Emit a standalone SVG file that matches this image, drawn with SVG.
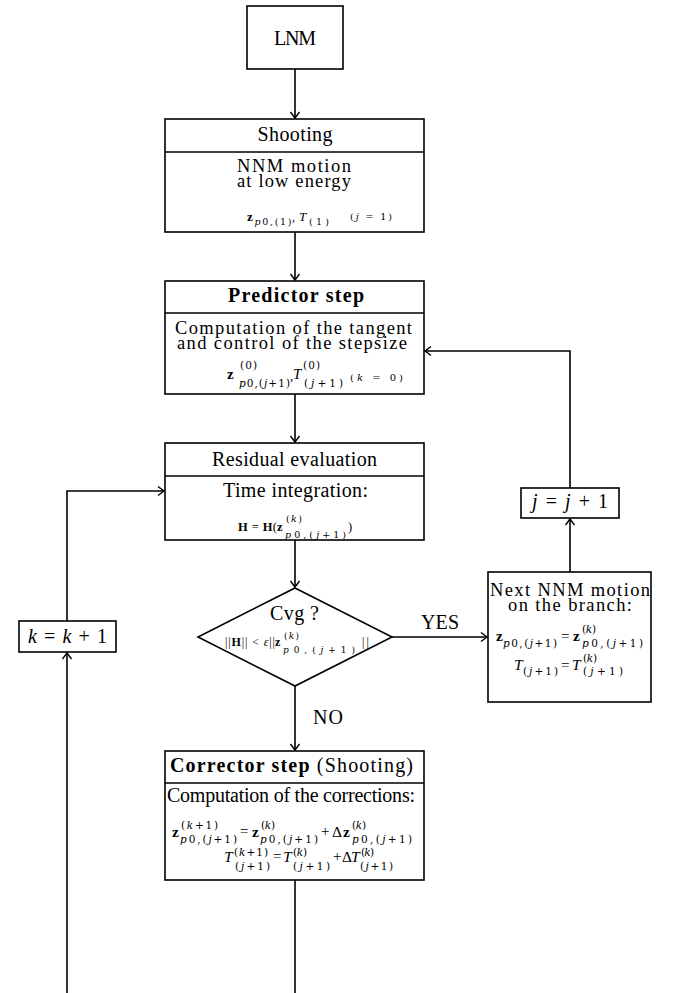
<svg xmlns="http://www.w3.org/2000/svg" width="673" height="993" viewBox="0 0 673 993">
<style>
.box{fill:#fff;stroke:#000;stroke-width:1.6}
.ln{fill:none;stroke:#000;stroke-width:1.6}
.c{fill:none;stroke:#000;stroke-width:1.6;marker-end:url(#ar)}
text{font-family:"Liberation Serif","Times New Roman",serif;fill:#000}
.s{font-family:"DejaVu Serif","Liberation Serif",serif}
.t{font-size:20px;text-anchor:middle}
.t2{font-size:18.5px;text-anchor:middle}
.b{font-weight:bold}
.i{font-style:italic}
</style>
<defs>
<marker id="ar" viewBox="-8 -6 10 12" markerWidth="10" markerHeight="12" refX="0" refY="0" orient="auto" markerUnits="userSpaceOnUse">
<path d="M -6 -4.5 Q -2 -1.5 0 0 Q -2 1.5 -6 4.5" fill="none" stroke="#000" stroke-width="1.4"/>
</marker>
</defs>
<rect width="673" height="993" fill="#fff"/>

<g id="connectors">
<path class="c" d="M295 69 L295 118"/>
<path class="c" d="M295 232 L295 280"/>
<path class="c" d="M295 394 L295 442"/>
<path class="c" d="M295 540 L295 587"/>
<path class="c" d="M392 637 L487 637"/>
<path class="c" d="M570 572 L570 519"/>
<path class="c" d="M570 488 L570 351 L425 351"/>
<path class="c" d="M295 686 L295 750"/>
<path class="ln" d="M295 880 L295 993"/>
<path class="c" d="M67 993 L67 653"/>
<path class="c" d="M67 621 L67 491 L164 491"/>
<text x="440" y="629" class="t" textLength="38">YES</text>
<text x="328" y="724" class="t" textLength="30">NO</text>
</g>

<g id="lnm">
<rect class="box" x="247" y="6" width="96" height="63"/>
<text class="t" x="295" y="45" textLength="42">LNM</text>
</g>

<g id="shooting">
<rect class="box" x="165" y="119" width="259" height="113"/>
<line class="ln" x1="165" y1="152" x2="424" y2="152"/>
<text class="t" x="295" y="141" textLength="75">Shooting</text>
<text class="t2" x="294" y="172" textLength="114">NNM motion</text>
<text class="t2" x="294" y="187" textLength="114">at low energy</text>
<text x="247" y="221" font-size="13" class="b">z</text>
<text class="s" x="254.5" y="225" font-size="9.5" textLength="37"><tspan class="i">p</tspan>0,(1)</text>
<text x="292" y="221" font-size="12">,</text>
<text x="299" y="221" font-size="13" class="i">T</text>
<text class="s" x="309" y="225" font-size="9.5" textLength="20">(1)</text>
<text class="s" x="350" y="220" font-size="9.5" textLength="42">(<tspan class="i">j</tspan> = 1)</text>
</g>

<g id="predictor">
<rect class="box" x="165" y="281" width="259" height="113"/>
<line class="ln" x1="165" y1="313" x2="424" y2="313"/>
<text class="t b" x="296" y="302" textLength="136">Predictor step</text>
<text class="t2" x="293.5" y="334" textLength="237">Computation of the tangent</text>
<text class="t2" x="292" y="349" textLength="230">and control of the stepsize</text>
<text x="227" y="379" font-size="15" class="b">z</text>
<text class="s" x="240" y="369" font-size="10.5" textLength="17">(0)</text>
<text class="s" x="239" y="387" font-size="10.5" textLength="51"><tspan class="i">p</tspan>0,(<tspan class="i">j</tspan>+1)</text>
<text x="290" y="380" font-size="13">,</text>
<text x="293" y="379" font-size="15" class="i">T</text>
<text class="s" x="303" y="369" font-size="10.5" textLength="17">(0)</text>
<text class="s" x="304" y="387" font-size="10.5" textLength="39">(<tspan class="i">j</tspan>+1)</text>
<text class="s" x="350" y="381" font-size="10" textLength="53">(<tspan class="i">k</tspan> = 0)</text>
</g>

<g id="residual">
<rect class="box" x="165" y="443" width="259" height="97"/>
<line class="ln" x1="165" y1="476" x2="424" y2="476"/>
<text class="t" x="294.5" y="466" textLength="165">Residual evaluation</text>
<text class="t" x="295.5" y="497" textLength="145">Time integration:</text>
<text x="238" y="531" font-size="12.5" textLength="39"><tspan class="b">H</tspan> = <tspan class="b">H</tspan>(</text>
<text x="277" y="531" font-size="12.5" class="b">z</text>
<text class="s" x="286" y="522" font-size="9.5" textLength="16">(<tspan class="i">k</tspan>)</text>
<text class="s" x="285" y="537.5" font-size="9.5" textLength="61"><tspan class="i">p</tspan>0,(<tspan class="i">j</tspan>+1)</text>
<text x="348" y="531" font-size="12.5">)</text>
</g>

<g id="cvg">
<polygon class="box" points="295,588 392,637 295,686 198,637"/>
<text class="t" x="294.5" y="620" textLength="49">Cvg ?</text>
<text x="225" y="646" font-size="12" textLength="50">||<tspan class="b">H</tspan>|| &lt; <tspan class="i">ε</tspan>||</text>
<text x="275" y="646" font-size="12" class="b">z</text>
<text class="s" x="284" y="639" font-size="9" textLength="15">(<tspan class="i">k</tspan>)</text>
<text class="s" x="283" y="653" font-size="9" textLength="72"><tspan class="i">p</tspan>0,(<tspan class="i">j</tspan>+1)</text>
<text x="362" y="646" font-size="12" textLength="7">||</text>
</g>

<g id="next">
<rect class="box" x="488" y="572" width="163" height="130"/>
<text class="t2" x="570" y="596" textLength="160">Next NNM motion</text>
<text class="t2" x="570" y="611" textLength="124">on the branch:</text>
<text x="496" y="641" font-size="15.5" class="b">z</text>
<text class="s" x="503" y="646.5" font-size="10.5" textLength="54"><tspan class="i">p</tspan>0,(<tspan class="i">j</tspan>+1)</text>
<text x="561" y="641" font-size="15" textLength="10">=</text>
<text x="573" y="641" font-size="15.5" class="b">z</text>
<text class="s" x="582" y="633" font-size="10.5" textLength="14">(<tspan class="i">k</tspan>)</text>
<text class="s" x="582" y="646.5" font-size="10.5" textLength="61"><tspan class="i">p</tspan>0,(<tspan class="i">j</tspan>+1)</text>
<text x="514" y="670" font-size="15.5" class="i">T</text>
<text class="s" x="523" y="675" font-size="10.5" textLength="35">(<tspan class="i">j</tspan>+1)</text>
<text x="561" y="670" font-size="15" textLength="10">=</text>
<text x="572" y="670" font-size="15.5" class="i">T</text>
<text class="s" x="583" y="662" font-size="10.5" textLength="14">(<tspan class="i">k</tspan>)</text>
<text class="s" x="583" y="675" font-size="10.5" textLength="40">(<tspan class="i">j</tspan>+1)</text>
</g>

<g id="jinc">
<rect class="box" x="521" y="488" width="98" height="30"/>
<text class="t" x="570" y="508" textLength="76"><tspan class="i">j</tspan> = <tspan class="i">j</tspan> + 1</text>
</g>

<g id="kinc">
<rect class="box" x="19" y="621" width="97" height="31"/>
<text class="t" x="67.5" y="643" textLength="79"><tspan class="i">k</tspan> = <tspan class="i">k</tspan> + 1</text>
</g>

<g id="corrector">
<rect class="box" x="165" y="751" width="259" height="129"/>
<line class="ln" x1="165" y1="783" x2="424" y2="783"/>
<text x="170" y="772" font-size="20" textLength="243"><tspan class="b">Corrector step</tspan> (Shooting)</text>
<text class="t" x="291" y="802" textLength="248">Computation of the corrections:</text>
<text x="172" y="837" font-size="15.5" class="b">z</text>
<text class="s" x="181" y="828.5" font-size="10.5" textLength="37">(<tspan class="i">k</tspan>+1)</text>
<text class="s" x="180" y="843" font-size="10.5" textLength="57"><tspan class="i">p</tspan>0,(<tspan class="i">j</tspan>+1)</text>
<text x="240" y="836" font-size="15" textLength="9">=</text>
<text x="252" y="837" font-size="15.5" class="b">z</text>
<text class="s" x="261" y="828.5" font-size="10.5" textLength="14">(<tspan class="i">k</tspan>)</text>
<text class="s" x="260" y="843" font-size="10.5" textLength="58"><tspan class="i">p</tspan>0,(<tspan class="i">j</tspan>+1)</text>
<text x="321" y="836" font-size="15" textLength="8">+</text>
<text x="332" y="837" font-size="15.5" textLength="10">Δ</text>
<text x="343" y="837" font-size="15.5" class="b">z</text>
<text class="s" x="352" y="828.5" font-size="10.5" textLength="14">(<tspan class="i">k</tspan>)</text>
<text class="s" x="352" y="843" font-size="10.5" textLength="60"><tspan class="i">p</tspan>0,(<tspan class="i">j</tspan>+1)</text>
<text x="224" y="862" font-size="15.5" class="i">T</text>
<text class="s" x="234" y="855.5" font-size="10.5" textLength="34">(<tspan class="i">k</tspan>+1)</text>
<text class="s" x="235" y="869.5" font-size="10.5" textLength="35">(<tspan class="i">j</tspan>+1)</text>
<text x="273" y="861" font-size="15" textLength="9">=</text>
<text x="283" y="862" font-size="15.5" class="i">T</text>
<text class="s" x="293" y="855.5" font-size="10.5" textLength="14">(<tspan class="i">k</tspan>)</text>
<text class="s" x="293" y="869.5" font-size="10.5" textLength="37">(<tspan class="i">j</tspan>+1)</text>
<text x="333" y="861" font-size="15" textLength="7">+</text>
<text x="342" y="862" font-size="15.5" textLength="9">Δ</text>
<text x="351" y="862" font-size="15.5" class="i">T</text>
<text class="s" x="361" y="855.5" font-size="10.5" textLength="13">(<tspan class="i">k</tspan>)</text>
<text class="s" x="360" y="869.5" font-size="10.5" textLength="33">(<tspan class="i">j</tspan>+1)</text>
</g>
</svg>
